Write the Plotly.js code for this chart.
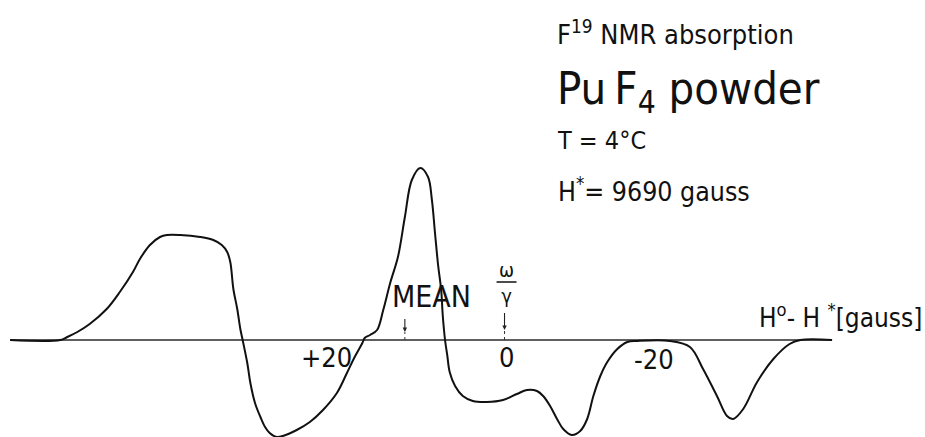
<!DOCTYPE html>
<html><head><meta charset="utf-8">
<script src="https://cdn.plot.ly/plotly-3.0.1.min.js"></script>
<style>html,body{margin:0;padding:0;background:#fff}</style>
</head><body>
<div id="chart" style="width:925px;height:437px"></div>
<script>
// Field offset H° - H* in gauss (positive to the left) and derivative signal (arbitrary units)
const gauss = [64.0, 57.5, 56.6, 55.3, 53.7, 51.5, 49.8, 48.1, 47.2, 45.9, 44.6, 43.7, 42.0, 39.4, 37.7, 36.6, 35.9, 35.5, 35.1, 34.6, 34.2, 33.9, 33.3, 32.9, 32.3, 31.6, 31.0, 30.4, 29.5, 28.7, 26.9, 25.2, 23.5, 21.7, 20.4, 19.4, 18.4, 18.1, 17.4, 16.5, 15.7, 14.8, 13.8, 12.9, 12.0, 10.9, 9.9, 9.4, 9.0, 8.6, 8.2, 8.0, 7.7, 7.4, 7.1, 6.4, 5.4, 4.1, 2.3, 0.2, -1.6, -2.9, -4.2, -5.0, -5.9, -6.8, -7.6, -8.7, -9.8, -10.7, -11.5, -12.4, -13.3, -14.6, -15.9, -17.2, -21.4, -24.0, -25.7, -27.5, -28.8, -29.6, -30.9, -32.7, -34.8, -36.9, -38.3, -42.4];
const signal = [0, 0, 3, 8, 16, 31, 48, 68, 81, 95, 103, 105, 105, 103, 100, 95, 88, 78, 51, 31, 11, 0, -23, -43, -63, -77, -87, -93, -97, -96, -90, -82, -70, -53, -33, -17, -3, 2, 5, 10, 30, 57, 83, 123, 160, 172, 163, 140, 107, 75, 50, 25, 0, -16, -32, -46, -56, -61, -62, -60, -54, -50, -51, -56, -66, -79, -89, -95, -91, -79, -56, -36, -22, -9, -2, -1, -1, -7, -29, -56, -76, -79, -69, -42, -19, -4, 0, 0];
const baselineX = [64.0, -42.4];
const baselineY = [0, 0];
const tickVals = [20, 0, -20];
const tickText = ["+20", "0", "-20"];
const refNames = ["MEAN", "ω<br>γ"];
const refPos = [12.9, 0];

const FONT = "DejaVu Sans Condensed, Roboto, sans-serif";
const W = 925, H = 437;
const px = v => v / W, py = v => 1 - v / H;

const traces = [
  {x: baselineX, y: baselineY, mode: 'lines', line: {color: '#2a2a2a', width: 1.3}, hoverinfo: 'skip'},
  {x: gauss, y: signal, mode: 'lines', line: {color: '#111', width: 2, shape: 'spline', smoothing: 1.0}, hoverinfo: 'skip'}
];

const tickShiftX = [-24, 1.5, -5];
const tickShiftY = [-17, -17, -19];
const annotations = [];
tickVals.forEach((v, i) => annotations.push({
  x: v, y: 0, xref: 'x', yref: 'y', text: tickText[i], showarrow: false,
  xshift: tickShiftX[i], yshift: tickShiftY[i], font: {family: FONT, size: 27, color: '#111'}
}));
// MEAN label and arrow
annotations.push({x: refPos[0], y: 0, xref: 'x', yref: 'y', text: refNames[0], showarrow: false,
  xshift: 27, yshift: 44, font: {family: FONT, size: 30, color: '#111'}});
annotations.push({x: refPos[0], y: 0, xref: 'x', yref: 'y', text: ' ', showarrow: true,
  ax: 0, ay: -20, yshift: 8, arrowhead: 2, arrowsize: 0.8, arrowwidth: 1.1, arrowcolor: '#222',
  font: {family: FONT, size: 10, color: '#111'}});
// omega / gamma label and arrow
annotations.push({x: refPos[1], y: 0, xref: 'x', yref: 'y', text: refNames[1], showarrow: false,
  xshift: 2, yshift: 57, font: {family: FONT, size: 20, color: '#111'}});
annotations.push({x: refPos[1], y: 0, xref: 'x', yref: 'y', text: ' ', showarrow: true,
  ax: 0, ay: -24, yshift: 10, arrowhead: 2, arrowsize: 0.8, arrowwidth: 1.1, arrowcolor: '#222',
  font: {family: FONT, size: 10, color: '#111'}});
// axis title
annotations.push({x: px(924), y: py(316), xref: 'paper', yref: 'paper', xanchor: 'right', yanchor: 'middle',
  text: 'H<sup>o</sup>- H <sup>*</sup>[gauss]', showarrow: false, font: {family: FONT, size: 26, color: '#111'}});
// header block
annotations.push({x: px(555), y: py(33), xref: 'paper', yref: 'paper', xanchor: 'left', yanchor: 'middle',
  text: 'F<sup>19</sup> NMR absorption', showarrow: false, font: {family: FONT, size: 27, color: '#111'}});
annotations.push({x: px(555), y: py(91), xref: 'paper', yref: 'paper', xanchor: 'left', yanchor: 'middle',
  text: 'Pu\u2009F<sub>4</sub> powder', showarrow: false, font: {family: FONT, size: 45, color: '#111'}});
annotations.push({x: px(555), y: py(140), xref: 'paper', yref: 'paper', xanchor: 'left', yanchor: 'middle',
  text: 'T = 4°C', showarrow: false, font: {family: FONT, size: 25, color: '#111'}});
annotations.push({x: px(556), y: py(190), xref: 'paper', yref: 'paper', xanchor: 'left', yanchor: 'middle',
  text: 'H<sup>*</sup>= 9690 gauss', showarrow: false, font: {family: FONT, size: 26.5, color: '#111'}});

const shapes = [
  {type: 'line', xref: 'x', yref: 'y', xsizemode: 'pixel', ysizemode: 'pixel', xanchor: refPos[1], yanchor: 0,
   x0: -8, x1: 12, y0: 58, y1: 58, line: {color: '#111', width: 1.5}},
  {type: 'line', xref: 'x', yref: 'y', xsizemode: 'pixel', ysizemode: 'pixel', xanchor: refPos[1], yanchor: 0,
   x0: 0, x1: 0, y0: 0, y1: 9, line: {color: '#333', width: 1, dash: 'dot'}},
  {type: 'line', xref: 'x', yref: 'y', xsizemode: 'pixel', ysizemode: 'pixel', xanchor: refPos[0], yanchor: 0,
   x0: 0, x1: 0, y0: 0, y1: 8, line: {color: '#333', width: 1, dash: 'dot'}}
];

const layout = {
  width: W, height: H, margin: {l: 0, r: 0, t: 0, b: 0},
  paper_bgcolor: '#fff', plot_bgcolor: '#fff', showlegend: false,
  xaxis: {range: [65.31, -54.43], visible: false, fixedrange: true},
  yaxis: {range: [-97, 340], visible: false, fixedrange: true},
  annotations: annotations, shapes: shapes
};
Plotly.newPlot('chart', traces, layout, {displayModeBar: false});
</script>
</body></html>
